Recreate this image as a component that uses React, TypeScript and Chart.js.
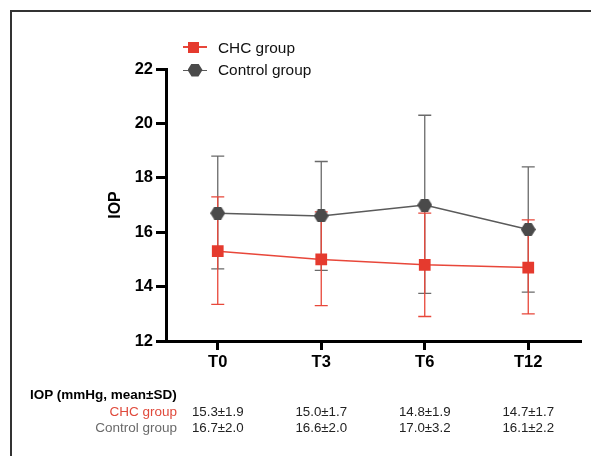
import React, { useEffect, useRef, useState } from "react";
import { Chart, registerables } from "chart.js";

Chart.register(...registerables);

// ---- data ----
const categories = ["T0", "T3", "T6", "T12"];
const chcMean = [15.3, 15.0, 14.8, 14.7];
const chcLow = [13.35, 13.3, 12.9, 13.0];
const chcHigh = [17.3, 16.75, 16.7, 16.45];
const ctlMean = [16.7, 16.6, 17.0, 16.1];
const ctlLow = [14.65, 14.6, 13.75, 13.8];
const ctlHigh = [18.8, 18.6, 20.3, 18.4];
const seriesNames = ["CHC group", "Control group"];
const yAxisTitle = "IOP";
const tableHeader = "IOP (mmHg, mean±SD)";
const chcTable = ["15.3±1.9", "15.0±1.7", "14.8±1.9", "14.7±1.7"];
const ctlTable = ["16.7±2.0", "16.6±2.0", "17.0±3.2", "16.1±2.2"];

const FONT = '"Liberation Sans", Arial, sans-serif';
const RED = "#e53a2e";
const RED_LINE = "#e8473a";
const DARK = "#4a4a4a";
const GRAY_LINE = "#5a5a5a";

function makeHex(w: number, h: number, color: string) {
  const c = document.createElement("canvas");
  c.width = w;
  c.height = h;
  const ctx = c.getContext("2d")!;
  ctx.fillStyle = color;
  ctx.beginPath();
  ctx.moveTo(0, h / 2);
  ctx.lineTo(w * 0.27, 0);
  ctx.lineTo(w * 0.73, 0);
  ctx.lineTo(w, h / 2);
  ctx.lineTo(w * 0.73, h);
  ctx.lineTo(w * 0.27, h);
  ctx.closePath();
  ctx.fill();
  return c;
}

export default function App() {
  const ref = useRef<HTMLCanvasElement>(null);
  const [cols, setCols] = useState<number[]>([]);

  useEffect(() => {
    if (!ref.current) return;
    const hex = makeHex(15, 13, DARK);
    const errorBars = {
      id: "errorBars",
      beforeDatasetsDraw(chart: any) {
        const { ctx, scales } = chart;
        const x = scales.x;
        const y = scales.y;
        const sets = [
          { low: ctlLow, high: ctlHigh, color: "#6a6a6a" },
          { low: chcLow, high: chcHigh, color: RED_LINE },
        ];
        ctx.save();
        ctx.lineWidth = 1.3;
        for (const s of sets) {
          ctx.strokeStyle = s.color;
          s.low.forEach((lo, i) => {
            const px = x.getPixelForValue(i);
            const yl = y.getPixelForValue(lo);
            const yh = y.getPixelForValue(s.high[i]);
            ctx.beginPath();
            ctx.moveTo(px, yl);
            ctx.lineTo(px, yh);
            ctx.moveTo(px - 6.5, yl);
            ctx.lineTo(px + 6.5, yl);
            ctx.moveTo(px - 6.5, yh);
            ctx.lineTo(px + 6.5, yh);
            ctx.stroke();
          });
        }
        ctx.restore();
      },
    };

    const tickFont = { family: FONT, size: 16.5, weight: "bold" as const };
    const chart = new Chart(ref.current, {
      type: "line",
      data: {
        labels: categories,
        datasets: [
          {
            label: seriesNames[0],
            data: chcMean,
            borderColor: RED_LINE,
            backgroundColor: RED,
            borderWidth: 1.5,
            pointStyle: "rect",
            pointRadius: 8.3,
            pointBorderWidth: 0,
            pointBackgroundColor: RED,
          },
          {
            label: seriesNames[1],
            data: ctlMean,
            borderColor: GRAY_LINE,
            backgroundColor: DARK,
            borderWidth: 1.5,
            pointStyle: hex as any,
            pointRadius: 8,
          },
        ],
      },
      options: {
        responsive: false,
        animation: false,
        layout: { padding: { left: 100, top: 69, right: 11, bottom: 75 } },
        plugins: { legend: { display: false }, tooltip: { enabled: false } },
        scales: {
          x: {
            offset: true,
            grid: {
              offset: false,
              drawOnChartArea: false,
              drawTicks: true,
              tickLength: 9,
              lineWidth: 3,
              color: "#000",
            },
            border: { color: "#000", width: 3 },
            ticks: { font: tickFont, color: "#000", padding: 3 },
            afterFit: (s: any) => {
              s.height = 40;
            },
          },
          y: {
            min: 12,
            max: 22,
            ticks: { stepSize: 2, font: tickFont, color: "#000", padding: 3 },
            grid: {
              drawOnChartArea: false,
              drawTicks: true,
              tickLength: 10,
              lineWidth: 3,
              color: "#000",
            },
            border: { color: "#000", width: 3 },
            title: {
              display: true,
              text: yAxisTitle,
              font: { family: FONT, size: 16, weight: "bold" },
              color: "#000",
              padding: { top: 6, bottom: 0 },
            },
            afterFit: (s: any) => {
              s.width = 66;
            },
          },
        },
      },
      plugins: [errorBars],
    });
    const xs = chart.scales.x;
    setCols(categories.map((_, i) => xs.getPixelForValue(i)));
    return () => chart.destroy();
  }, []);

  const txt: React.CSSProperties = {
    position: "absolute",
    fontFamily: FONT,
    whiteSpace: "nowrap",
  };

  return (
    <div
      style={{
        position: "fixed",
        left: 0,
        top: 0,
        width: 591,
        height: 456,
        background: "#fff",
        overflow: "hidden",
      }}
    >
      <div
        style={{
          position: "absolute",
          left: 10,
          top: 10,
          right: -5,
          bottom: -5,
          borderLeft: "2px solid #333",
          borderTop: "2px solid #333",
        }}
      />
      <canvas
        ref={ref}
        width={591}
        height={456}
        style={{ position: "absolute", left: 0, top: 0, width: 591, height: 456 }}
      />
      {/* legend */}
      <div style={{ position: "absolute", left: 183, top: 46, width: 24, height: 1.5, background: RED_LINE }} />
      <div style={{ position: "absolute", left: 188, top: 41.5, width: 11, height: 11, background: RED }} />
      <div style={{ ...txt, left: 218, top: 38, fontSize: 15.4, lineHeight: "20px", color: "#111" }}>
        {seriesNames[0]}
      </div>
      <div style={{ position: "absolute", left: 183, top: 69.5, width: 24, height: 1.5, background: GRAY_LINE }} />
      <div
        style={{
          position: "absolute",
          left: 187.5,
          top: 63.5,
          width: 15,
          height: 13,
          background: DARK,
          clipPath: "polygon(0 50%, 27% 0, 73% 0, 100% 50%, 73% 100%, 27% 100%)",
        }}
      />
      <div style={{ ...txt, left: 218, top: 60, fontSize: 15.4, lineHeight: "20px", color: "#111" }}>
        {seriesNames[1]}
      </div>
      {/* table */}
      <div style={{ ...txt, left: 30, top: 387, fontSize: 13.5, lineHeight: "16px", fontWeight: "bold", color: "#000" }}>
        {tableHeader}
      </div>
      <div style={{ ...txt, left: 0, width: 177, textAlign: "right", top: 404, fontSize: 13.5, lineHeight: "16px", color: "#e04a3c" }}>
        {seriesNames[0]}
      </div>
      <div style={{ ...txt, left: 0, width: 177, textAlign: "right", top: 420, fontSize: 13.5, lineHeight: "16px", color: "#6a6a6a" }}>
        {seriesNames[1]}
      </div>
      {cols.map((cx, i) => (
        <React.Fragment key={i}>
          <div style={{ ...txt, left: cx, transform: "translateX(-50%)", top: 404, fontSize: 13.3, lineHeight: "16px", color: "#222" }}>
            {chcTable[i]}
          </div>
          <div style={{ ...txt, left: cx, transform: "translateX(-50%)", top: 420, fontSize: 13.3, lineHeight: "16px", color: "#222" }}>
            {ctlTable[i]}
          </div>
        </React.Fragment>
      ))}
    </div>
  );
}
